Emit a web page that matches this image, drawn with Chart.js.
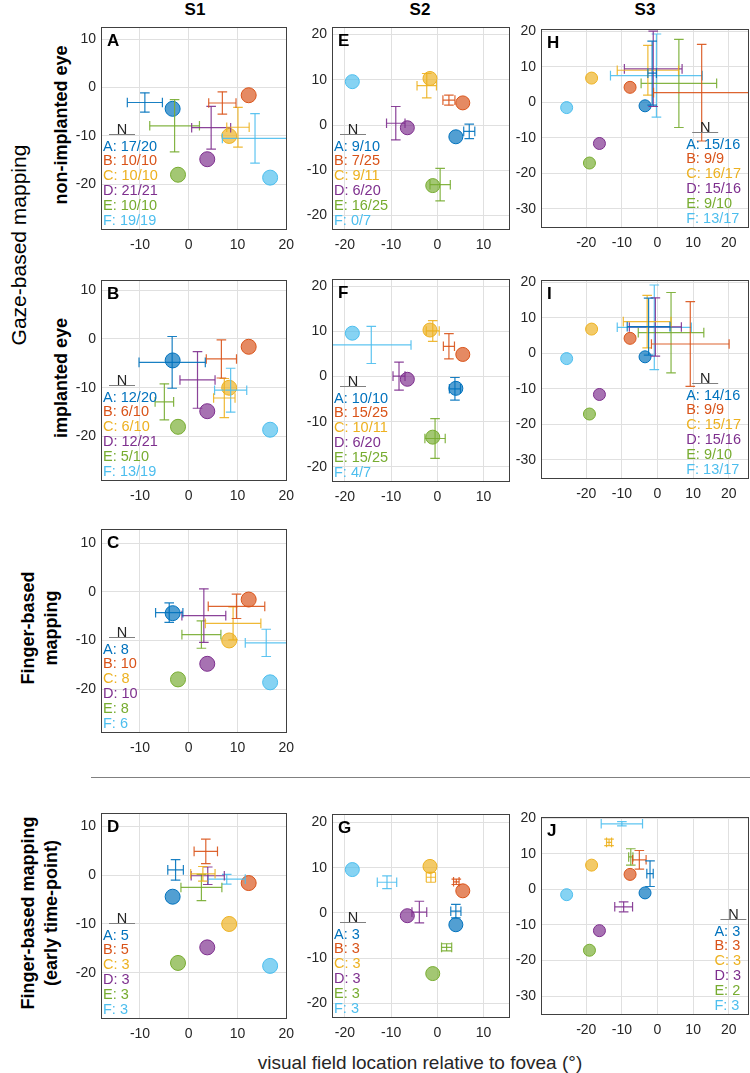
<!DOCTYPE html>
<html lang="en">
<head>
<meta charset="UTF-8">
<meta name="viewport" content="width=device-width, initial-scale=1.0">
<title>Electrode mapping</title>
<script src="https://cdn.jsdelivr.net/npm/chart.js"></script>
<style>
  body { margin: 0; background: white; }
  #fig { position: relative; width: 750px; height: 1073px; overflow: hidden;
         font-family: "Liberation Sans", Arial, sans-serif; color: #262626; }
  .panel { position: absolute; }
  .rot { position: absolute; white-space: nowrap; text-align: center;
         transform: translate(-50%, -50%) rotate(-90deg); color: #000; }
  .head { position: absolute; top: 0; font-size: 17px; font-weight: bold; color: #000;
          transform: translateX(-50%); }
  #sep { position: absolute; left: 91px; top: 777px; width: 659px; height: 1px; background: #808080; }
  #xtitle { position: absolute; left: 420px; top: 1063px; transform: translate(-50%, -50%);
            font-size: 19px; white-space: nowrap; color: #262626; }
</style>
</head>
<body>
<div id="fig">
  <div class="head" style="left:195px">S1</div>
  <div class="head" style="left:420px">S2</div>
  <div class="head" style="left:645px">S3</div>

  <div class="rot" style="left:19px; top:245px; font-size:21px;">Gaze-based mapping</div>
  <div class="rot" style="left:61px; top:125px; font-size:18px; font-weight:bold;">non-implanted eye</div>
  <div class="rot" style="left:61px; top:378px; font-size:18px; font-weight:bold;">implanted eye</div>
  <div class="rot" style="left:40px; top:628px; font-size:18px; font-weight:bold; line-height:23px;">Finger-based<br>mapping</div>
  <div class="rot" style="left:40px; top:913px; font-size:18px; font-weight:bold; line-height:23px;">Finger-based mapping<br>(early time-point)</div>

  <div id="sep"></div>
  <div id="xtitle">visual field location relative to fovea (°)</div>
</div>

<script>
const electrodes = ['A', 'B', 'C', 'D', 'E', 'F'];

// electrode locations (deg), one set per subject
const s1ElecX = [-3.3, 12.3, 8.3, 3.8, -2.2, 16.7];
const s1ElecY = [-4.4, -1.6, -10.0, -14.8, -18.0, -18.6];
const s2ElecX = [4.0, 5.5, -1.6, -6.5, -1.0, -18.4];
const s2ElecY = [-2.6, 4.9, 10.3, -0.6, -13.4, 9.6];
const s3ElecX = [-3.5, -7.7, -18.5, -16.3, -19.1, -25.5];
const s3ElecY = [-1.0, 4.2, 6.8, -11.6, -17.1, -1.5];

// tick labels
const s1TicksX = [-10, 0, 10, 20];
const s1TicksY = [-20, -10, 0, 10];
const s2TicksX = [-20, -10, 0, 10];
const s2TicksY = [-20, -10, 0, 10, 20];
const s3TicksX = [-20, -10, 0, 10, 20];
const s3TicksY = [-30, -20, -10, 0, 10, 20];

// mapped phosphene locations: mean and error half-widths
const aMapX = [-9.0, 6.9, 10.1, 4.6, -2.9, 13.6];
const aMapY = [-3.1, -3.2, -8.2, -8.3, -7.9, -10.5];
const aErrX = [3.6, 2.8, 2.3, 4.0, 5.1, 6.7];
const aErrY = [2.0, 2.3, 4.1, 4.4, 5.4, 5.1];
const aN = ['17/20', '10/10', '10/10', '21/21', '10/10', '19/19'];

const bMapX = [-3.4, 6.7, 7.3, 1.8, -5.0, 8.6];
const bMapY = [-4.8, -4.1, -12.1, -8.4, -12.9, -10.5];
const bErrX = [6.8, 3.1, 2.2, 3.6, 1.9, 3.3];
const bErrY = [5.3, 3.9, 4.0, 5.8, 3.7, 4.5];
const bN = ['12/20', '6/10', '6/10', '12/21', '5/10', '13/19'];

const cMapX = [-4.0, 9.8, 9.1, 3.1, 2.6, 15.9];
const cMapY = [-4.3, -3.0, -6.5, -4.9, -8.8, -10.5];
const cErrX = [2.8, 5.8, 5.7, 4.5, 4.0, 4.3];
const cErrY = [2.0, 2.5, 3.4, 5.5, 2.8, 2.8];
const cN = ['8', '10', '8', '10', '8', '6'];

const dMapX = [-2.7, 3.5, 2.9, 3.9, 2.6, 7.8];
const dMapY = [1.1, 4.9, 0.3, -0.1, -2.5, -0.8];
const dErrX = [1.6, 2.4, 2.5, 3.4, 4.2, 3.8];
const dErrY = [2.1, 2.5, 1.5, 1.8, 2.7, 1.0];
const dN = ['5', '5', '3', '3', '3', '3'];

const eMapX = [6.9, 2.5, -2.3, -9.0, 0.6, null];
const eMapY = [-1.4, 5.5, 8.7, 0.4, -13.2, null];
const eErrX = [1.2, 1.3, 2.1, 2.0, 2.2, null];
const eErrY = [1.6, 1.1, 2.7, 3.7, 3.6, null];
const eN = ['9/10', '7/25', '9/11', '6/20', '16/25', '0/7'];

const fMapX = [3.8, 2.5, -1.0, -8.3, -0.5, -14.3];
const fMapY = [-2.7, 6.7, 10.1, 0.1, -13.7, 7.0];
const fErrX = [1.2, 1.2, 1.4, 1.3, 2.2, 8.6];
const fErrY = [2.5, 2.8, 2.3, 3.1, 4.4, 4.1];
const fN = ['10/10', '15/25', '10/11', '6/20', '15/25', '4/7'];

const gMapX = [4.0, 4.1, -1.4, -3.9, 2.0, -10.9];
const gMapY = [0.4, 6.9, 7.9, 0.2, -7.6, 6.8];
const gErrX = [1.1, 0.6, 1.0, 1.6, 1.1, 2.1];
const gErrY = [1.5, 0.6, 1.1, 2.4, 0.8, 1.4];
const gN = ['3', '3', '3', '3', '3', '3'];

const hMapX = [-1.5, 12.4, -2.7, -1.2, 6.0, -0.3];
const hMapY = [8.2, 2.7, 9.0, 9.4, 5.3, 7.5];
const hErrX = [1.2, 13.5, 8.6, 8.1, 10.6, 12.9];
const hErrY = [9.0, 13.6, 7.0, 10.6, 12.4, 11.7];
const hN = ['15/16', '9/9', '16/17', '15/16', '9/10', '13/17'];

const iMapX = [-2.5, 9.2, -2.9, -0.6, 3.8, -0.9];
const iMapY = [7.5, 2.6, 8.9, 7.4, 5.8, 7.3];
const iErrX = [6.0, 10.9, 6.7, 7.3, 9.2, 10.4];
const iErrY = [8.0, 11.9, 7.4, 8.2, 11.3, 11.9];
const iN = ['14/16', '9/9', '15/17', '15/16', '9/10', '13/17'];

const jMapX = [-2.1, -5.1, -13.6, -9.5, -7.5, -10.0];
const jMapY = [4.4, 8.3, 13.2, -4.9, 9.1, 18.4];
const jErrX = [0.9, 1.9, 0.7, 2.5, 0.6, 5.8];
const jErrY = [3.6, 2.6, 0.9, 1.4, 2.3, 0.6];
const jN = ['3', '3', '3', '3', '2', '3'];

const COLORS = ['#0072BD', '#D95319', '#EDB120', '#7E2F8E', '#77AC30', '#4DBEEE'];
const FONT = '"Liberation Sans", Arial, sans-serif';
const YW = 42, PT = 8, PR = 12, XH = 27;

const s1 = { ex: s1ElecX, ey: s1ElecY, tx: s1TicksX, ty: s1TicksY, xr: [-18, 20], r: 7.5, legend: 'left' };
const s2 = { ex: s2ElecX, ey: s2ElecY, tx: s2TicksX, ty: s2TicksY, xr: [-22.8, 15.5], r: 7, legend: 'left' };
const s3 = { ex: s3ElecX, ey: s3ElecY, tx: s3TicksX, ty: s3TicksY, xr: [-32.7, 25.4], r: 6, legend: 'right' };

const panels = [
  { key: 'A', s: s1, left: 101, top: 22,  w: 189, h: 207, yr: [-29.2, 12.4], mx: aMapX, my: aMapY, sx: aErrX, sy: aErrY, n: aN },
  { key: 'B', s: s1, left: 101, top: 275, w: 189, h: 205, yr: [-28.9, 12.0], mx: bMapX, my: bMapY, sx: bErrX, sy: bErrY, n: bN },
  { key: 'C', s: s1, left: 101, top: 524, w: 189, h: 208, yr: [-28.8, 12.8], mx: cMapX, my: cMapY, sx: cErrX, sy: cErrY, n: cN },
  { key: 'D', s: s1, left: 101, top: 808, w: 189, h: 210, yr: [-29.3, 12.7], mx: dMapX, my: dMapY, sx: dErrX, sy: dErrY, n: dN },
  { key: 'E', s: s2, left: 332, top: 22,  w: 177, h: 207, yr: [-23.0, 21.6], mx: eMapX, my: eMapY, sx: eErrX, sy: eErrY, n: eN },
  { key: 'F', s: s2, left: 332, top: 274, w: 177, h: 207, yr: [-23.1, 21.5], mx: fMapX, my: fMapY, sx: fErrX, sy: fErrY, n: fN },
  { key: 'G', s: s2, left: 332, top: 809, w: 177, h: 208, yr: [-23.0, 21.8], mx: gMapX, my: gMapY, sx: gErrX, sy: gErrY, n: gN },
  { key: 'H', s: s3, left: 541, top: 24,  w: 207, h: 203, yr: [-35.1, 20.5], mx: hMapX, my: hMapY, sx: hErrX, sy: hErrY, n: hN },
  { key: 'I', s: s3, left: 541, top: 275, w: 207, h: 203, yr: [-35.1, 20.5], mx: iMapX, my: iMapY, sx: iErrX, sy: iErrY, n: iN },
  { key: 'J', s: s3, left: 541, top: 812, w: 207, h: 202, yr: [-35.0, 20.2], mx: jMapX, my: jMapY, sx: jErrX, sy: jErrY, n: jN }
];

function rgba(hex, a) {
  const n = parseInt(hex.slice(1), 16);
  return `rgba(${n >> 16}, ${(n >> 8) & 255}, ${n & 255}, ${a})`;
}

const framePlugin = {
  id: 'frame',
  afterDraw(chart) {
    const { ctx, chartArea: a } = chart;
    ctx.save();
    ctx.strokeStyle = '#404040';
    ctx.lineWidth = 1;
    ctx.strokeRect(Math.round(a.left) + 0.5, Math.round(a.top) + 0.5,
                   Math.round(a.right - a.left), Math.round(a.bottom - a.top));
    ctx.restore();
  }
};

function annotPlugin(p) {
  return {
    id: 'annot',
    afterDatasetsDraw(chart) {
      const { ctx, chartArea: a } = chart;
      ctx.save();
      ctx.textBaseline = 'alphabetic';
      ctx.font = 'bold 17px ' + FONT;
      ctx.fillStyle = '#000';
      ctx.fillText(p.key, a.left + 6, a.top + 19);

      ctx.font = '14.5px ' + FONT;
      const rows = electrodes.map((e, i) => `${e}: ${p.n[i]}`);
      const maxW = Math.max(...rows.map(t => ctx.measureText(t).width));
      const x0 = p.s.legend === 'left' ? a.left + 2 : a.right - maxW - 7;
      const last = a.bottom - 4;
      rows.forEach((t, i) => {
        ctx.fillStyle = COLORS[i];
        ctx.fillText(t, x0, last - (rows.length - 1 - i) * 14.9);
      });
      const nY = Math.round(last - (rows.length - 1) * 14.9 - 17);
      ctx.fillStyle = '#262626';
      ctx.textAlign = 'center';
      ctx.fillText('N', x0 + 19, nY);
      ctx.strokeStyle = '#808080';
      ctx.lineWidth = 1;
      ctx.beginPath();
      ctx.moveTo(x0 + 6, nY + 0.5);
      ctx.lineTo(x0 + 32, nY + 0.5);
      ctx.stroke();
      ctx.restore();
    }
  };
}

function buildDatasets(p) {
  const ds = [];
  electrodes.forEach((e, i) => {
    if (p.mx[i] == null) return;
    const col = rgba(COLORS[i], 0.9);
    const base = {
      showLine: true, borderColor: col, borderWidth: 1.2,
      pointStyle: 'line', pointRadius: 4.8, pointBorderColor: col, pointBorderWidth: 1.2,
      order: 0, clip: 0
    };
    ds.push(Object.assign({}, base, {
      pointRotation: 90,
      data: [{ x: p.mx[i] - p.sx[i], y: p.my[i] }, { x: p.mx[i] + p.sx[i], y: p.my[i] }]
    }));
    ds.push(Object.assign({}, base, {
      pointRotation: 0,
      data: [{ x: p.mx[i], y: p.my[i] - p.sy[i] }, { x: p.mx[i], y: p.my[i] + p.sy[i] }]
    }));
  });
  ds.push({
    data: p.s.ex.map((x, i) => ({ x: x, y: p.s.ey[i] })),
    pointRadius: p.s.r,
    pointBackgroundColor: COLORS.map(c => rgba(c, 0.68)),
    pointBorderColor: COLORS,
    pointBorderWidth: 1,
    showLine: false,
    order: 1
  });
  return ds;
}

function axis(min, max, ticks, isX) {
  return {
    type: 'linear', min: min, max: max,
    afterBuildTicks: s => { s.ticks = ticks.map(v => ({ value: v })); },
    afterFit: s => { if (isX) s.height = XH; else s.width = YW; },
    grid: { color: '#e0e0e0', drawTicks: false, lineWidth: 1 },
    border: { display: false },
    ticks: { color: '#262626', font: { size: 14, family: FONT }, padding: isX ? 8 : 5,
             maxRotation: 0, autoSkip: false }
  };
}

const fig = document.getElementById('fig');
panels.forEach(p => {
  const holder = document.createElement('div');
  holder.className = 'panel';
  holder.style.left = (p.left - YW) + 'px';
  holder.style.top = (p.top - PT) + 'px';
  const canvas = document.createElement('canvas');
  canvas.width = p.w + YW + PR;
  canvas.height = p.h + PT + XH;
  holder.appendChild(canvas);
  fig.appendChild(holder);

  new Chart(canvas, {
    type: 'scatter',
    data: { datasets: buildDatasets(p) },
    options: {
      responsive: false,
      animation: false,
      events: [],
      layout: { padding: { top: PT, right: PR, left: 0, bottom: 0 } },
      plugins: { legend: { display: false }, tooltip: { enabled: false } },
      scales: {
        x: axis(p.s.xr[0], p.s.xr[1], p.s.tx, true),
        y: axis(p.yr[0], p.yr[1], p.s.ty, false)
      }
    },
    plugins: [framePlugin, annotPlugin(p)]
  });
});
</script>
</body>
</html>
